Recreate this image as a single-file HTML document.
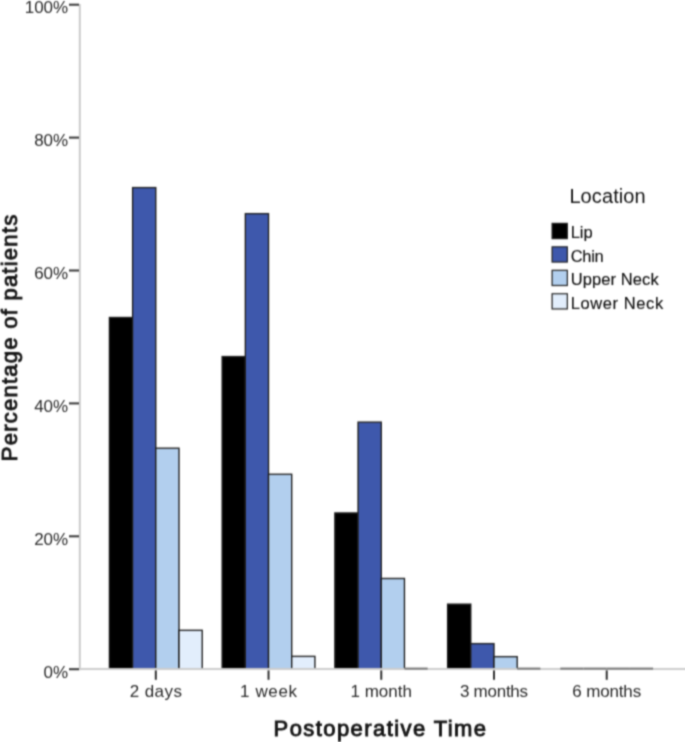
<!DOCTYPE html>
<html><head><meta charset="utf-8"><style>
html,body{margin:0;padding:0;background:#fff;}
body{width:685px;height:742px;overflow:hidden;}
svg{display:block;}
text{font-family:"Liberation Sans",sans-serif;}
.tl{font-size:17px;fill:#2a2a2a;}
.lt{font-size:20px;fill:#111;letter-spacing:0.1px;}
.li{font-size:16.5px;fill:#111;stroke:#111;stroke-width:0.15px;}
.at{font-size:22px;font-weight:normal;fill:#151515;stroke:#151515;stroke-width:0.9px;letter-spacing:1.42px;}
</style></head><body>
<svg width="685" height="742" viewBox="0 0 685 742">
<defs><filter id="soft" filterUnits="userSpaceOnUse" x="0" y="0" width="685" height="742" color-interpolation-filters="sRGB"><feConvolveMatrix order="5" kernelMatrix="0.000211 0.004505 0.012498 0.004505 0.000211 0.002198 0.046942 0.130232 0.046942 0.002198 0.004802 0.102530 0.284453 0.102530 0.004802 0.002198 0.046942 0.130232 0.046942 0.002198 0.000211 0.004505 0.012498 0.004505 0.000211" edgeMode="duplicate" preserveAlpha="false"/></filter></defs><g filter="url(#soft)"><rect x="0" y="0" width="685" height="742" fill="#fff"/><rect x="109.40" y="317.51" width="23.20" height="351.69" fill="#000000" stroke="#1e1e1e" stroke-width="1.35"/>
<rect x="132.60" y="187.61" width="23.20" height="481.59" fill="#3e58ac" stroke="#1e1e1e" stroke-width="1.35"/>
<rect x="155.80" y="448.20" width="23.20" height="221.00" fill="#b2cfee" stroke="#1e1e1e" stroke-width="1.35"/>
<rect x="179.00" y="630.31" width="23.20" height="38.89" fill="#e2eefc" stroke="#1e1e1e" stroke-width="1.35"/>
<rect x="222.13" y="356.59" width="23.20" height="312.61" fill="#000000" stroke="#1e1e1e" stroke-width="1.35"/>
<rect x="245.33" y="213.67" width="23.20" height="455.53" fill="#3e58ac" stroke="#1e1e1e" stroke-width="1.35"/>
<rect x="268.53" y="474.26" width="23.20" height="194.94" fill="#b2cfee" stroke="#1e1e1e" stroke-width="1.35"/>
<rect x="291.73" y="656.37" width="23.20" height="12.83" fill="#e2eefc" stroke="#1e1e1e" stroke-width="1.35"/>
<rect x="334.86" y="512.95" width="23.20" height="156.25" fill="#000000" stroke="#1e1e1e" stroke-width="1.35"/>
<rect x="358.06" y="422.14" width="23.20" height="247.06" fill="#3e58ac" stroke="#1e1e1e" stroke-width="1.35"/>
<rect x="381.26" y="578.49" width="23.20" height="90.71" fill="#b2cfee" stroke="#1e1e1e" stroke-width="1.35"/>
<rect x="447.59" y="604.15" width="23.20" height="65.05" fill="#000000" stroke="#1e1e1e" stroke-width="1.35"/>
<rect x="470.79" y="643.64" width="23.20" height="25.56" fill="#3e58ac" stroke="#1e1e1e" stroke-width="1.35"/>
<rect x="493.99" y="656.67" width="23.20" height="12.53" fill="#b2cfee" stroke="#1e1e1e" stroke-width="1.35"/>
<line x1="79.8" y1="4" x2="79.8" y2="670.2" stroke="#cccccc" stroke-width="2"/>
<line x1="78.8" y1="669.1" x2="685" y2="669.1" stroke="#cccccc" stroke-width="2"/>
<line x1="404.46" y1="668.6" x2="427.66" y2="668.6" stroke="#777" stroke-width="2"/>
<line x1="517.19" y1="668.6" x2="540.39" y2="668.6" stroke="#777" stroke-width="2"/>
<line x1="560.32" y1="668.6" x2="583.52" y2="668.6" stroke="#777" stroke-width="2"/>
<line x1="583.52" y1="668.6" x2="606.72" y2="668.6" stroke="#777" stroke-width="2"/>
<line x1="606.72" y1="668.6" x2="629.92" y2="668.6" stroke="#777" stroke-width="2"/>
<line x1="629.92" y1="668.6" x2="653.12" y2="668.6" stroke="#777" stroke-width="2"/>
<line x1="69" y1="669.20" x2="79.0" y2="669.20" stroke="#333" stroke-width="2"/>
<text x="68.2" y="677.90" text-anchor="end" class="tl">0%</text>
<line x1="69" y1="536.30" x2="79.0" y2="536.30" stroke="#333" stroke-width="2"/>
<text x="68.2" y="545.00" text-anchor="end" class="tl">20%</text>
<line x1="69" y1="403.40" x2="79.0" y2="403.40" stroke="#333" stroke-width="2"/>
<text x="68.2" y="412.10" text-anchor="end" class="tl">40%</text>
<line x1="69" y1="270.50" x2="79.0" y2="270.50" stroke="#333" stroke-width="2"/>
<text x="68.2" y="279.20" text-anchor="end" class="tl">60%</text>
<line x1="69" y1="137.60" x2="79.0" y2="137.60" stroke="#333" stroke-width="2"/>
<text x="68.2" y="146.30" text-anchor="end" class="tl">80%</text>
<line x1="69" y1="4.70" x2="79.0" y2="4.70" stroke="#333" stroke-width="2"/>
<text x="68.2" y="13.40" text-anchor="end" class="tl">100%</text>
<line x1="155.80" y1="670.4000000000001" x2="155.80" y2="679.8" stroke="#333" stroke-width="2"/>
<text x="156.03" y="696.5" text-anchor="middle" class="tl" letter-spacing="0.45">2 days</text>
<line x1="268.53" y1="670.4000000000001" x2="268.53" y2="679.8" stroke="#333" stroke-width="2"/>
<text x="268.83" y="696.5" text-anchor="middle" class="tl" letter-spacing="0.6">1 week</text>
<line x1="381.26" y1="670.4000000000001" x2="381.26" y2="679.8" stroke="#333" stroke-width="2"/>
<text x="381.26" y="696.5" text-anchor="middle" class="tl" letter-spacing="0.0">1 month</text>
<line x1="493.99" y1="670.4000000000001" x2="493.99" y2="679.8" stroke="#333" stroke-width="2"/>
<text x="493.87" y="696.5" text-anchor="middle" class="tl" letter-spacing="-0.25">3 months</text>
<line x1="606.72" y1="670.4000000000001" x2="606.72" y2="679.8" stroke="#333" stroke-width="2"/>
<text x="606.64" y="696.5" text-anchor="middle" class="tl" letter-spacing="-0.15">6 months</text>
<text x="569.4" y="203.3" class="lt">Location</text>
<rect x="552.1" y="223.40" width="15.2" height="15.2" fill="#000000" stroke="#1e1e1e" stroke-width="1.2"/>
<text x="570.7" y="238.30" class="li" letter-spacing="0">Lip</text>
<rect x="552.1" y="246.85" width="15.2" height="15.2" fill="#3e58ac" stroke="#1e1e1e" stroke-width="1.2"/>
<text x="570.7" y="261.75" class="li" letter-spacing="-0.3">Chin</text>
<rect x="552.1" y="270.30" width="15.2" height="15.2" fill="#b2cfee" stroke="#1e1e1e" stroke-width="1.2"/>
<text x="570.7" y="285.20" class="li" letter-spacing="0.1">Upper Neck</text>
<rect x="552.1" y="293.75" width="15.2" height="15.2" fill="#e2eefc" stroke="#1e1e1e" stroke-width="1.2"/>
<text x="570.7" y="308.65" class="li" letter-spacing="0.6">Lower Neck</text>
<text x="273.6" y="736" class="at">Postoperative Time</text>
<text transform="translate(17.3,461.2) rotate(-90)" x="0" y="0" class="at" style="letter-spacing:1.25px">Percentage of patients</text></g>
</svg>
</body></html>
